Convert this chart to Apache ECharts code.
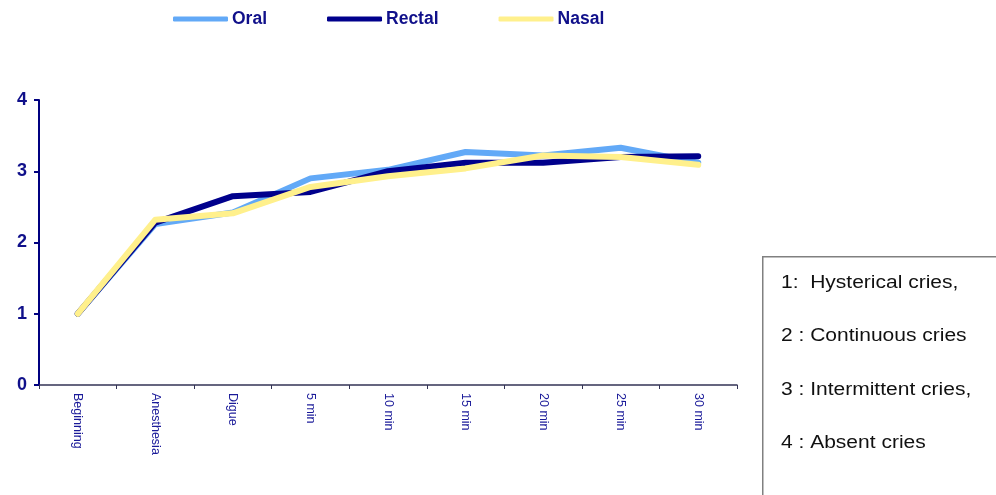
<!DOCTYPE html>
<html>
<head>
<meta charset="utf-8">
<script src="https://cdn.jsdelivr.net/npm/echarts@6/dist/echarts.min.js"></script>
<style>
  html, body { margin: 0; padding: 0; background: #fff; }
  #main { width: 996px; height: 495px; }
</style>
</head>
<body>
<div id="main"></div>
<script>
const categories = ["Beginning", "Anesthesia", "Digue", "5 min", "10 min", "15 min", "20 min", "25 min", "30 min"];
const oral = [1.0, 2.26, 2.42, 2.9, 3.02, 3.27, 3.22, 3.33, 3.12];
const rectal = [1.0, 2.28, 2.65, 2.71, 3.0, 3.12, 3.12, 3.2, 3.21];
const nasal = [1.0, 2.32, 2.41, 2.78, 2.93, 3.04, 3.22, 3.2, 3.09];
const yTicks = [0, 1, 2, 3, 4];
const notes = ["1:  Hysterical cries,", "2 : Continuous cries", "3 : Intermittent cries,", "4 : Absent cries"];

const navy = "#000080";

var chartDom = document.getElementById("main");
var myChart = echarts.init(chartDom);

function lineSeries(name, data, color) {
  return {
    name: name,
    type: "line",
    data: data,
    symbol: "none",
    lineStyle: { color: color, width: 6, cap: "round", join: "round" },
    itemStyle: { color: color },
  };
}

var option = {
  animation: false,
  backgroundColor: "#ffffff",
  legend: {
    top: 5,
    left: 168,
    itemGap: 60,
    itemWidth: 55,
    itemHeight: 5,
    icon: "roundRect",
    textStyle: {
      fontFamily: "Liberation Sans",
      fontWeight: "bold",
      fontSize: 17.5,
      color: "#10108a",
      padding: [0, 0, 0, -1],
    },
    data: ["Oral", "Rectal", "Nasal"],
  },
  grid: { left: 39, right: 259, top: 100, bottom: 110 },
  xAxis: {
    type: "category",
    data: categories,
    boundaryGap: true,
    axisLine: { lineStyle: { color: "#333355", width: 1.5 } },
    axisTick: { show: true, length: 4, lineStyle: { color: "#333355" } },
    axisLabel: {
      rotate: -90,
      interval: 0,
      fontFamily: "Liberation Sans",
      fontSize: 12.5,
      color: "#1a1a99",
      margin: 8,
    },
  },
  yAxis: {
    type: "value",
    min: yTicks[0],
    max: yTicks[yTicks.length - 1],
    interval: 1,
    splitLine: { show: false },
    axisLine: { show: true, lineStyle: { color: navy, width: 2 } },
    axisTick: { show: true, inside: false, length: 5, lineStyle: { color: navy, width: 2 } },
    axisLabel: {
      fontFamily: "Liberation Sans",
      fontWeight: "bold",
      fontSize: 18,
      color: "#10108a",
      margin: 12,
    },
  },
  graphic: [
    {
      type: "rect",
      left: 762,
      top: 256,
      shape: { width: 240, height: 250 },
      style: { fill: "#ffffff", stroke: "#808080", lineWidth: 1.5 },
    },
  ].concat(
    notes.map(function (t, i) {
      return {
        type: "text",
        left: 781,
        top: 274 + i * 53.5,
        scaleX: 1.2,
        style: {
          text: t,
          fontFamily: "Liberation Sans",
          fontSize: 17.5,
          fill: "#111111",
        },
      };
    })
  ),
  series: [
    lineSeries("Oral", oral, "#62a9f7"),
    lineSeries("Rectal", rectal, "#00008c"),
    lineSeries("Nasal", nasal, "#fff08c"),
  ],
};

myChart.setOption(option);
</script>
</body>
</html>
